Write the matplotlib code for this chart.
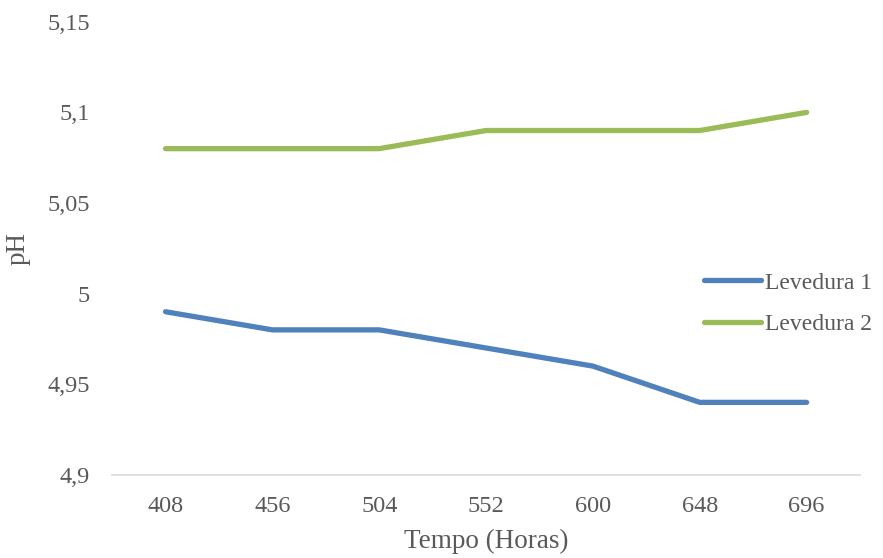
import matplotlib.pyplot as plt
from matplotlib.ticker import FuncFormatter

# dados de pH ao longo do tempo
tempo = ['408', '456', '504', '552', '600', '648', '696']
levedura1 = [4.99, 4.98, 4.98, 4.97, 4.96, 4.94, 4.94]
levedura2 = [5.08, 5.08, 5.08, 5.09, 5.09, 5.09, 5.10]
y_ticks = [4.9, 4.95, 5.0, 5.05, 5.1, 5.15]

plt.rcParams['font.family'] = ['Liberation Serif', 'DejaVu Serif']
cinza = '#595959'

fig = plt.figure(figsize=(8.83, 5.58), dpi=100)
ax = fig.add_axes([0.127, 0.149, 0.847, 0.812])

x = range(len(tempo))
ax.plot(x, levedura1, color='#4F81BD', lw=3.8, solid_capstyle='round', label='Levedura 1')
ax.plot(x, levedura2, color='#9BBB59', lw=3.8, solid_capstyle='round', label='Levedura 2')

ax.set_xlim(-0.5, len(tempo) - 0.5)
ax.set_ylim(4.9, 5.15)
ax.set_xticks(list(x))
ax.set_xticklabels(tempo)
ax.set_yticks(y_ticks)
ax.yaxis.set_major_formatter(FuncFormatter(lambda v, p: ('%g' % round(v, 2)).replace('.', ',')))

for s in ['top', 'right', 'left']:
    ax.spines[s].set_visible(False)
ax.spines['bottom'].set_color('#D9D9D9')
ax.spines['bottom'].set_linewidth(1.2)
ax.tick_params(length=0, labelsize=17.5, colors=cinza)
ax.tick_params(axis='y', pad=16)
ax.tick_params(axis='x', pad=15)

ax.set_xlabel('Tempo (Horas)', fontsize=19.5, color=cinza, labelpad=9)
ax.set_ylabel('pH', fontsize=19.5, color=cinza, labelpad=12)

leg = fig.legend(loc='center left', bbox_to_anchor=(0.787, 0.456), frameon=False,
                 fontsize=17, handlelength=2.4, handletextpad=0.15, labelspacing=0.85,
                 borderaxespad=0)
for t in leg.get_texts():
    t.set_color(cinza)

fig.savefig('out.png', dpi=100)
